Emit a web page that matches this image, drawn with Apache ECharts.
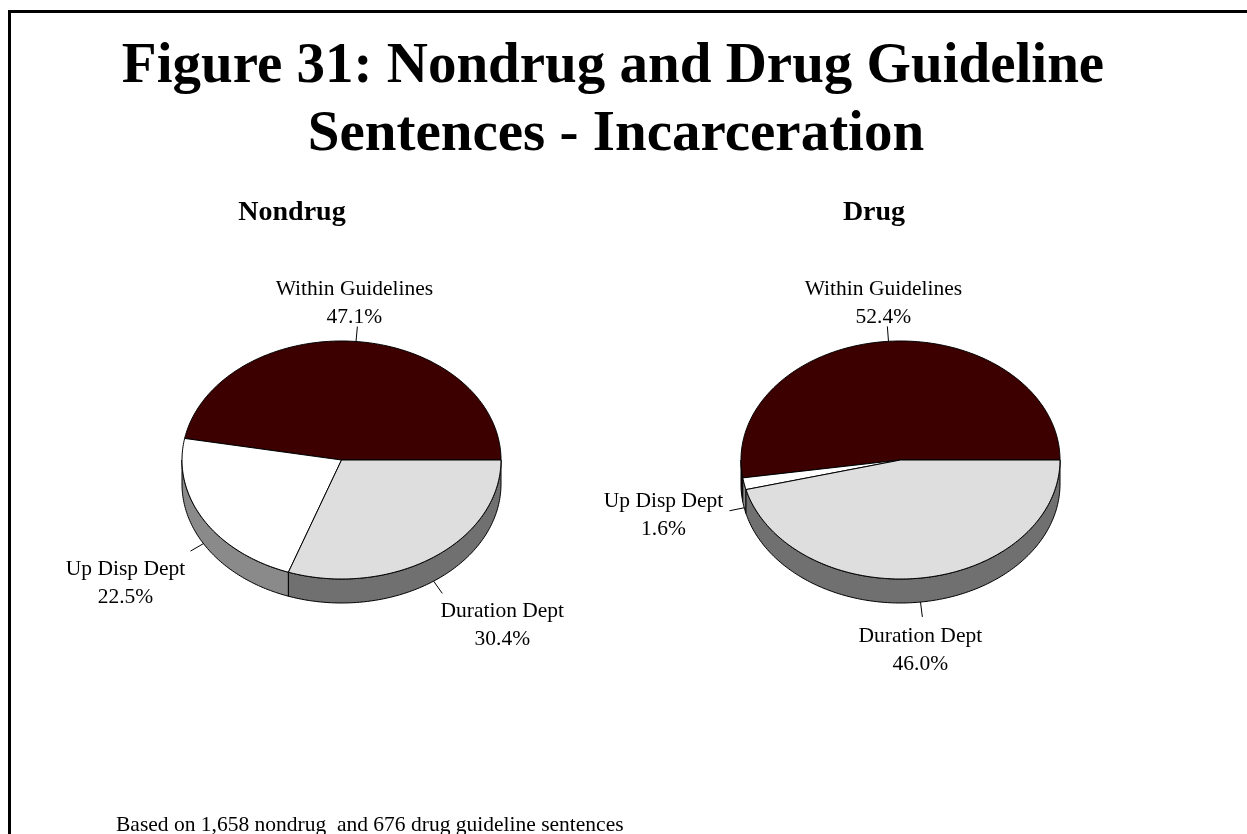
<!DOCTYPE html>
<html>
<head>
<meta charset="utf-8">
<title>Figure 31: Nondrug and Drug Guideline Sentences - Incarceration</title>
<script src="https://cdn.jsdelivr.net/npm/echarts@6/dist/echarts.min.js"></script>
<style>
  html, body { margin: 0; padding: 0; background: #ffffff; }
  #chart { width: 1247px; height: 834px; }
</style>
</head>
<body>
<div id="chart"></div>
<script>
// ---- data ----
const sliceNames = ['Within Guidelines', 'Up Disp Dept', 'Duration Dept'];
const nondrugShares = [47.1, 22.5, 30.4];
const drugShares = [52.4, 1.6, 46.0];
const panelTitles = ['Nondrug', 'Drug'];
const titleLines = ['Figure 31: Nondrug and Drug Guideline', 'Sentences - Incarceration'];
const footnoteText = 'Based on 1,658 nondrug  and 676 drug guideline sentences';

// ---- styling ----
const SERIF = "'Liberation Serif', 'Times New Roman', 'DejaVu Serif', serif";
const topColors = ['#3d0000', '#ffffff', '#dedede'];
const sideColors = ['#1c0000', '#8a8a8a', '#707070'];

// tilted-disc geometry for each pie
const pieGeometry = [
  { cx: 341.5, cy: 460, rx: 159.5, ry: 119, depth: 24 },
  { cx: 900.5, cy: 460, rx: 159.5, ry: 119, depth: 24 }
];

// where each (centred) label block sits relative to the end of its leader line
const labelPlacement = [
  [
    { verticalAlign: 'bottom', dx: -3, dy: 5 },
    { verticalAlign: 'top', dx: -65, dy: 4 },
    { verticalAlign: 'top', dx: 60, dy: 4 }
  ],
  [
    { verticalAlign: 'bottom', dx: -4, dy: 5 },
    { verticalAlign: 'middle', dx: -66, dy: 5 },
    { verticalAlign: 'top', dx: -2, dy: 5 }
  ]
];

const LEADER = 15;

function arcPoints(g, a0, a1, dropY) {
  const pts = [];
  const steps = Math.max(2, Math.ceil(Math.abs(a1 - a0) / (Math.PI / 180)));
  for (let i = 0; i <= steps; i++) {
    const a = a0 + (a1 - a0) * i / steps;
    pts.push([g.cx + g.rx * Math.cos(a), g.cy - g.ry * Math.sin(a) + dropY]);
  }
  return pts;
}

function makeRenderer(shares, pieIndex) {
  const g = pieGeometry[pieIndex];
  const total = shares.reduce((s, v) => s + v, 0);
  return function (params, api) {
    const idx = params.dataIndex;
    const value = api.value(0);
    let before = 0;
    for (let i = 0; i < idx; i++) before += shares[i];
    const a0 = before / total * Math.PI * 2;
    const a1 = (before + value) / total * Math.PI * 2;
    const children = [];

    // front wall of the disc (only the lower half faces the viewer)
    const s0 = Math.max(a0, Math.PI);
    const s1 = Math.min(a1, Math.PI * 2);
    if (s1 > s0) {
      const upper = arcPoints(g, s0, s1, 0);
      const lower = arcPoints(g, s1, s0, g.depth);
      children.push({
        type: 'polygon',
        z2: 1,
        shape: { points: upper.concat(lower) },
        style: { fill: sideColors[idx], stroke: '#000000', lineWidth: 1, lineJoin: 'round' }
      });
    }

    // top face of the slice
    const topPts = [[g.cx, g.cy]].concat(arcPoints(g, a0, a1, 0));
    children.push({
      type: 'polygon',
      z2: 2,
      shape: { points: topPts },
      style: { fill: topColors[idx], stroke: '#000000', lineWidth: 1, lineJoin: 'round' }
    });

    // leader line and label
    const m = (a0 + a1) / 2;
    const c = Math.cos(m), s = Math.sin(m);
    const px = g.cx + g.rx * c;
    const py = g.cy - g.ry * s + (s < 0 ? g.depth : 0);
    const ex = px + LEADER * c;
    const ey = py - LEADER * s;
    children.push({
      type: 'line',
      z2: 3,
      shape: { x1: px, y1: py, x2: ex, y2: ey },
      style: { stroke: '#000000', lineWidth: 1 }
    });
    const lp = labelPlacement[pieIndex][idx];
    children.push({
      type: 'text',
      z2: 4,
      style: {
        x: ex + lp.dx,
        y: ey + lp.dy,
        text: sliceNames[idx] + '\n' + value.toFixed(1) + '%',
        align: 'center',
        verticalAlign: lp.verticalAlign,
        fontFamily: SERIF,
        fontSize: 21.5,
        lineHeight: 28,
        fill: '#000000'
      }
    });
    return { type: 'group', children: children };
  };
}

function pieSeries(name, shares, pieIndex) {
  return {
    type: 'custom',
    name: name,
    coordinateSystem: 'none',
    silent: true,
    animation: false,
    data: shares.map((v, i) => ({ name: sliceNames[i], value: [v] })),
    renderItem: makeRenderer(shares, pieIndex)
  };
}

const chart = echarts.init(document.getElementById('chart'), null, { renderer: 'canvas' });

chart.setOption({
  backgroundColor: '#ffffff',
  animation: false,
  graphic: [
    // frame
    { type: 'rect', shape: { x: 8, y: 10, width: 1245, height: 3 }, style: { fill: '#000000' } },
    { type: 'rect', shape: { x: 8, y: 10, width: 3, height: 830 }, style: { fill: '#000000' } },
    // heading
    {
      type: 'text', x: 613, y: 67,
      style: { text: titleLines[0], align: 'center', verticalAlign: 'middle',
        fontFamily: SERIF, fontWeight: 'bold', fontSize: 57, fill: '#000000' }
    },
    {
      type: 'text', x: 616, y: 135,
      style: { text: titleLines[1], align: 'center', verticalAlign: 'middle',
        fontFamily: SERIF, fontWeight: 'bold', fontSize: 57, fill: '#000000' }
    },
    // panel titles
    {
      type: 'text', x: 292, y: 213,
      style: { text: panelTitles[0], align: 'center', verticalAlign: 'middle',
        fontFamily: SERIF, fontWeight: 'bold', fontSize: 28, fill: '#000000' }
    },
    {
      type: 'text', x: 874, y: 213,
      style: { text: panelTitles[1], align: 'center', verticalAlign: 'middle',
        fontFamily: SERIF, fontWeight: 'bold', fontSize: 28, fill: '#000000' }
    },
    // footnote
    {
      type: 'text', x: 116, y: 825,
      style: { text: footnoteText, align: 'left', verticalAlign: 'middle',
        fontFamily: SERIF, fontSize: 21.5, fill: '#000000' }
    }
  ],
  series: [
    pieSeries(panelTitles[0], nondrugShares, 0),
    pieSeries(panelTitles[1], drugShares, 1)
  ]
});
</script>
</body>
</html>
